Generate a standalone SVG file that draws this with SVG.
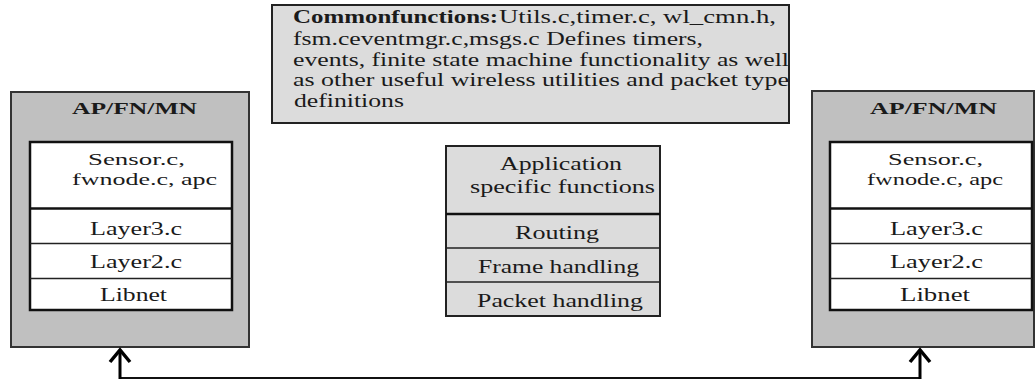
<svg xmlns="http://www.w3.org/2000/svg" width="1035" height="383" viewBox="0 0 1035 383">
<defs>
<style>
text{font-family:"Liberation Serif","Times New Roman",serif;fill:#1a1a1a;}
.t{font-size:18.5px;}
.s{font-size:17.5px;}
.tt{font-size:19px;}
.b{font-weight:bold;}
.outer{fill:#c0c0c0;stroke:#333;stroke-width:2;}
.inner{fill:#fff;stroke:#111;stroke-width:2.5;}
.light{fill:#dcdcdc;stroke:#222;stroke-width:2;}
.div{stroke:#222;stroke-width:1.5;}
.divk{stroke:#111;stroke-width:2.5;}
.conn{fill:none;stroke:#111;stroke-width:2;}
.stem{fill:none;stroke:#000;stroke-width:3;}
</style>
<marker id="up" markerUnits="userSpaceOnUse" markerWidth="30" markerHeight="30" viewBox="-15 -15 30 30" refX="0" refY="0" orient="auto">
<path d="M-12,-10 L0,0 L-12,10" fill="none" stroke="#000" stroke-width="3.5" stroke-linejoin="miter"/>
</marker>
</defs>

<g id="common">
<rect class="light" x="272" y="5" width="517" height="118"/>
<text class="tt b" x="293" y="23" textLength="205" lengthAdjust="spacingAndGlyphs">Commonfunctions:</text>
<text class="tt" x="499" y="23" textLength="277" lengthAdjust="spacingAndGlyphs">Utils.c,timer.c, wl_cmn.h,</text>
<text class="tt" x="293" y="45" textLength="410" lengthAdjust="spacingAndGlyphs">fsm.ceventmgr.c,msgs.c Defines timers,</text>
<text class="tt" x="293" y="66" textLength="496" lengthAdjust="spacingAndGlyphs">events, finite state machine functionality as well</text>
<text class="tt" x="293" y="86" textLength="496" lengthAdjust="spacingAndGlyphs">as other useful wireless utilities and packet type</text>
<text class="tt" x="294" y="107" textLength="110" lengthAdjust="spacingAndGlyphs">definitions</text>
</g>

<g id="node-left">
<rect class="outer" x="11" y="92" width="238" height="255"/>
<text class="b" x="72" y="114" textLength="125" lengthAdjust="spacingAndGlyphs" style="font-size:17px">AP/FN/MN</text>
<rect class="inner" x="30" y="142" width="202" height="168"/>
<line class="divk" x1="30" y1="208.5" x2="232" y2="208.5"/>
<line class="div" x1="30" y1="243.5" x2="232" y2="243.5"/>
<line class="div" x1="30" y1="278.5" x2="232" y2="278.5"/>
<text class="s" x="88" y="165" textLength="97" lengthAdjust="spacingAndGlyphs">Sensor.c,</text>
<text class="s" x="72" y="184.5" textLength="145" lengthAdjust="spacingAndGlyphs">fwnode.c, apc</text>
<text class="t" x="90" y="235" textLength="92" lengthAdjust="spacingAndGlyphs">Layer3.c</text>
<text class="t" x="90" y="268" textLength="92" lengthAdjust="spacingAndGlyphs">Layer2.c</text>
<text class="t" x="100" y="301" textLength="67" lengthAdjust="spacingAndGlyphs">Libnet</text>
</g>

<g id="node-center">
<rect class="light" x="446" y="146" width="214" height="170"/>
<line class="divk" x1="446" y1="214" x2="660" y2="214"/>
<line class="div" x1="446" y1="248" x2="660" y2="248"/>
<line class="div" x1="446" y1="282" x2="660" y2="282"/>
<text class="t" x="500" y="170" textLength="122" lengthAdjust="spacingAndGlyphs">Application</text>
<text class="t" x="470" y="193" textLength="185" lengthAdjust="spacingAndGlyphs">specific functions</text>
<text class="t" x="515" y="239" textLength="84" lengthAdjust="spacingAndGlyphs">Routing</text>
<text class="t" x="478" y="273" textLength="161" lengthAdjust="spacingAndGlyphs">Frame handling</text>
<text class="t" x="477" y="307" textLength="166" lengthAdjust="spacingAndGlyphs">Packet handling</text>
</g>

<g id="node-right">
<rect class="outer" x="812" y="91" width="222" height="256"/>
<text class="b" x="870" y="114" textLength="127" lengthAdjust="spacingAndGlyphs" style="font-size:17px">AP/FN/MN</text>
<rect class="inner" x="830" y="142" width="202" height="168"/>
<line class="divk" x1="830" y1="208.5" x2="1032" y2="208.5"/>
<line class="div" x1="830" y1="243.5" x2="1032" y2="243.5"/>
<line class="div" x1="830" y1="278.5" x2="1032" y2="278.5"/>
<text class="s" x="888" y="165" textLength="95" lengthAdjust="spacingAndGlyphs">Sensor.c,</text>
<text class="s" x="867" y="184.5" textLength="136" lengthAdjust="spacingAndGlyphs">fwnode.c, apc</text>
<text class="t" x="890" y="235" textLength="93" lengthAdjust="spacingAndGlyphs">Layer3.c</text>
<text class="t" x="890" y="268" textLength="93" lengthAdjust="spacingAndGlyphs">Layer2.c</text>
<text class="t" x="900" y="301" textLength="70" lengthAdjust="spacingAndGlyphs">Libnet</text>
</g>

<g id="connectors">
<path class="conn" d="M120,378 H920"/>
<path class="stem" d="M120,379 V350" marker-end="url(#up)"/>
<path class="stem" d="M920,379 V350" marker-end="url(#up)"/>
</g>
</svg>
